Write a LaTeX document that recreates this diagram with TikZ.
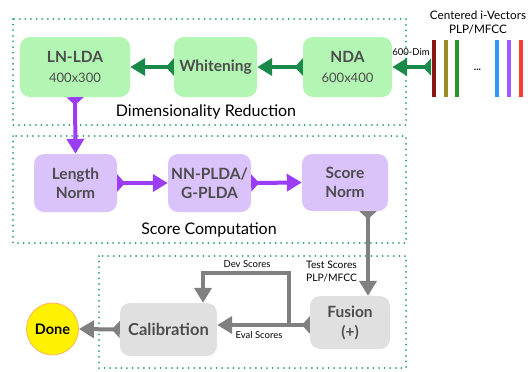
\documentclass[tikz,border=0pt]{standalone}
\usepackage{fontspec}
\setmainfont{Lato}
\usetikzlibrary{arrows.meta}
\definecolor{gfill}{HTML}{B3F5B3}
\definecolor{garrow}{HTML}{1A8A4A}
\definecolor{pfill}{HTML}{DAC2FA}
\definecolor{parrow}{HTML}{9A3DF5}
\definecolor{kfill}{HTML}{E0E0E0}
\definecolor{karrow}{HTML}{808080}
\definecolor{txt}{HTML}{4D4D4D}
\definecolor{dotc}{HTML}{2E9E6A}
\tikzset{
  box/.style={rounded corners=10bp, draw=none, align=center, text=txt, inner sep=0pt, font=\bfseries\fontsize{15.5bp}{19bp}\selectfont},
  gbox/.style={box, fill=gfill},
  pbox/.style={box, fill=pfill},
  kbox/.style={box, fill=kfill},
  flow/.style={line width=4bp, {Triangle[reversed,length=8bp,width=17bp]}-{Triangle[length=15bp,width=17bp]}},
  gflow/.style={flow, draw=garrow},
  pflow/.style={flow, draw=parrow},
  kflow/.style={flow, draw=karrow},
  kline/.style={line width=4bp, draw=karrow, -{Triangle[length=15bp,width=17bp]}},
  group/.style={draw=dotc, line width=2bp, line cap=round, dash pattern=on 0pt off 5.6bp},
  glabel/.style={font=\fontsize{16bp}{19bp}\selectfont, text=black, inner sep=0pt},
  small/.style={font=\fontsize{9.5bp}{11bp}\selectfont, text=black, inner sep=0pt},
  vec/.style={line width=4bp},
}
\begin{document}
\begin{tikzpicture}[x=1bp, y=-1bp]
\useasboundingbox (0,0) rectangle (528,371);
% groups
\draw[group] (13,19) rectangle (406,125);
\draw[group] (13,136) rectangle (406,243);
\draw[group] (99,256) rectangle (406,368);
\node[glabel] (dr) at (206,112) {Dimensionality Reduction};
\node[glabel] (sc) at (209,230) {Score Computation};
% boxes
\node[gbox, minimum width=110bp, minimum height=60bp] (lnlda) at (75,67) {LN-LDA\\[1bp]{\mdseries\fontsize{13bp}{15bp}\selectfont 400x300}};
\node[gbox, minimum width=83bp, minimum height=60bp] (wh) at (215.5,67) {Whitening};
\node[gbox, minimum width=89bp, minimum height=60bp] (nda) at (347.5,67) {NDA\\[1bp]{\mdseries\fontsize{13bp}{15bp}\selectfont 600x400}};
\node[pbox, minimum width=83bp, minimum height=58bp] (ln) at (75.5,183) {Length\\Norm};
\node[pbox, minimum width=83bp, minimum height=58bp] (plda) at (209.5,183) {NN-PLDA/\\G-PLDA};
\node[pbox, minimum width=86bp, minimum height=57bp] (sn) at (345,182.5) {Score\\Norm};
\node[kbox, minimum width=80bp, minimum height=53bp] (fus) at (350,322.5) {Fusion\\[1bp](+)};
\node[kbox, minimum width=97bp, minimum height=53bp, font=\bfseries\fontsize{16.5bp}{19bp}\selectfont] (cal) at (168.5,329.5) {Calibration};
\node[circle, fill=yellow, draw=orange!60, line width=0.8bp, minimum size=52bp, inner sep=0pt, font=\bfseries\fontsize{14.5bp}{17bp}\selectfont] (done) at (52.5,329) {Done};
% i-vectors
\node[font=\fontsize{11.7bp}{14bp}\selectfont, align=center, inner sep=0pt, text=black] (ivt) at (478,22) {Centered i-Vectors\\PLP/MFCC};
\draw[vec, draw={rgb,255:red,140;green,20;blue,20}] (434,40) -- (434,97);
\draw[vec, draw={rgb,255:red,150;green,140;blue,40}] (446,40) -- (446,97);
\draw[vec, draw={rgb,255:red,40;green,150;blue,40}] (457,40) -- (457,97);
\node[font=\bfseries\fontsize{10bp}{12bp}\selectfont, inner sep=0pt] (dots) at (477.5,70) {...};
\draw[vec, draw={rgb,255:red,50;green,150;blue,255}] (497,40) -- (497,97);
\draw[vec, draw={rgb,255:red,160;green,90;blue,255}] (509,40) -- (509,97);
\draw[vec, draw={rgb,255:red,255;green,60;blue,50}] (521,40) -- (521,97);
\coordinate (vin) at (431,67);
\node[small] (dim) at (411,52) {600-Dim};
% green flows
\draw[gflow] (vin) -- (nda.east);
\draw[gflow] (nda.west) -- (wh.east);
\draw[gflow] (wh.west) -- (lnlda.east);
% purple flows
\draw[pflow] (lnlda.south) -- (ln.north);
\draw[pflow] (ln.east) -- (plda.west);
\draw[pflow] (plda.east) -- (sn.west);
% gray flows
\coordinate (sx) at (368,0);
\draw[kflow] (sn.south -| sx) -- (fus.north -| sx);
\node[font=\fontsize{10.3bp}{12.5bp}\selectfont, text=black, inner sep=0pt, align=left, anchor=north west] (ts) at (306,261) {Test Scores\\PLP/MFCC};
\coordinate (j) at (289,325);
\coordinate (dv) at (203,273);
\draw[kflow] (fus.west |- j) -- (cal.east |- j);
\draw[kline, line join=miter] (j) -- (j |- dv) -- (dv) -- (dv |- cal.north);
\node[small] (devl) at (247,264) {Dev Scores};
\node[small] (evl) at (259,335) {Eval Scores};
\draw[kflow] (cal.west) -- (done.east);
\end{tikzpicture}
\end{document}
